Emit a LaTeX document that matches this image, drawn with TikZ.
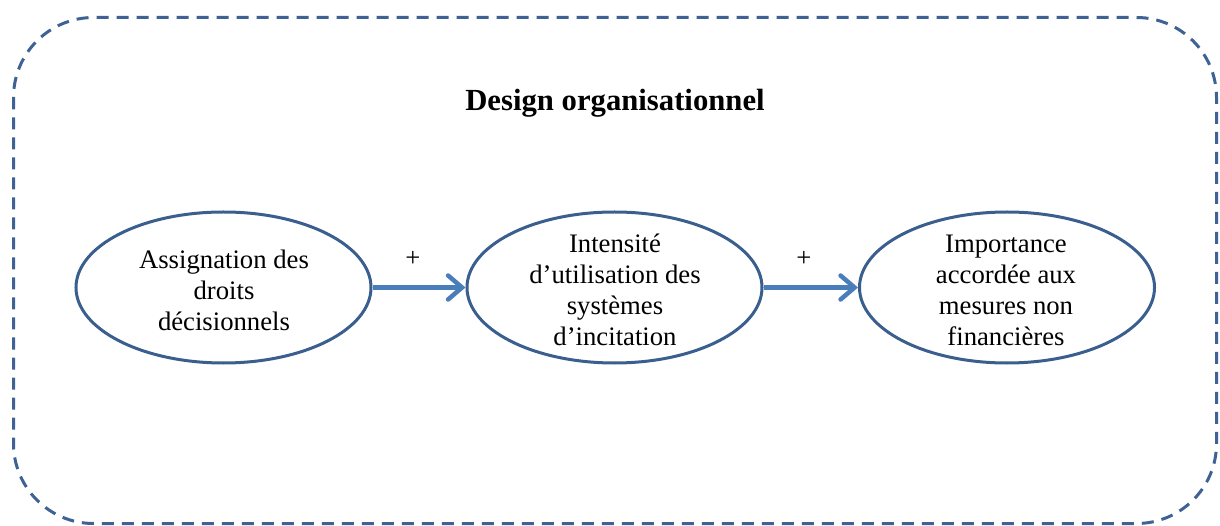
\documentclass[tikz,border=0pt]{standalone}
\usepackage{fontspec}
\setmainfont{Liberation Serif}
\usetikzlibrary{shapes.geometric,arrows.meta}
\definecolor{frameblue}{HTML}{3D6293}
\definecolor{ellblue}{HTML}{3A5F8E}
\definecolor{arrblue}{HTML}{4A7EBB}
\tikzset{
  ell/.style={ellipse, draw=ellblue, line width=3pt, minimum width=295pt, minimum height=151pt, inner sep=0pt},
  txt/.style={align=center, font=\fontsize{26.7pt}{31pt}\selectfont, inner sep=0pt},
  conn/.style={draw=arrblue, line width=4.5pt, -{Straight Barb[length=14pt,width=24pt,line cap=round]}},
  plus/.style={font=\fontsize{26.7pt}{31pt}\selectfont, inner sep=0pt}
}
\begin{document}
\begin{tikzpicture}[x=1pt,y=-1pt]
\useasboundingbox (0,0) rectangle (1220,526);
\draw[frameblue, line width=3pt, dash pattern=on 12pt off 8pt, rounded corners=80pt] (13.5,17.5) rectangle (1216.5,523.5);
\node[font=\bfseries\fontsize{30.7pt}{35pt}\selectfont, inner sep=0pt] (title) at (615,103) {Design organisationnel};
\node[ell] (a) at (223.5,287.5) {};
\node[ell] (b) at (614.5,287.5) {};
\node[ell] (c) at (1007,287.5) {};
\node[txt] (ta) at (224,290) {Assignation des\\droits\\décisionnels};
\node[txt] (tb) at (615,290) {Intensité\\d’utilisation des\\systèmes\\d’incitation};
\node[txt] (tc) at (1006,290) {Importance\\accordée aux\\mesures non\\financières};
\draw[conn] (a.east) -- (b.west);
\draw[conn] (b.east) -- (c.west);
\node[plus] (p1) at (413,259) {+};
\node[plus] (p2) at (804,259) {+};
\end{tikzpicture}
\end{document}
